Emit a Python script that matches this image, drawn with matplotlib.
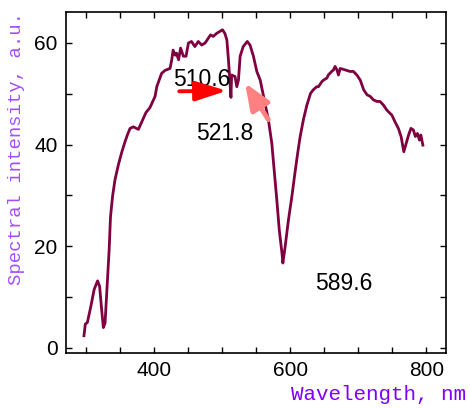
import numpy as np
import matplotlib
matplotlib.use('Agg')
import matplotlib.pyplot as plt
from matplotlib.ticker import MultipleLocator, FixedLocator

# spectrum
wavelength = [297, 299, 302, 307, 312, 317, 320, 323, 325.5, 328, 331, 334, 336, 339,
              342.6, 347.5, 352.5, 357.4, 360.8, 364.7, 369.6, 377, 382, 388, 394, 401.5,
              404, 411, 416, 423.5, 426, 428, 431, 433, 436, 439, 443, 447, 450.5, 455,
              460, 465, 470, 475, 480, 483, 487, 492, 497, 500.5, 504, 507, 509.3, 511,
              513, 514, 519, 521.6, 524, 526.5, 531, 537, 541, 546, 551, 556, 562, 568,
              573, 576.5, 580.4, 584, 588, 589.3, 592.6, 597.5, 602.5, 607, 611, 614.7,
              619.6, 624.6, 630, 634, 639, 641.6, 646.6, 649, 654, 656, 661, 663.7, 666,
              668.7, 671, 673.5, 681, 688, 693, 698, 703, 708, 713, 717.6, 722.5, 727.5,
              732, 737, 742, 749.5, 754, 759, 763, 767, 770.6, 774, 777.5, 781, 784, 787,
              790, 792, 795]
intensity = [2.4, 4.7, 5.0, 8.1, 11.5, 13.2, 12.1, 7.5, 4.0, 4.9, 12.1, 19.3, 25.8, 29.8,
             33.1, 36.0, 38.5, 40.6, 41.9, 43.2, 43.5, 43.0, 44.5, 46.3, 47.3, 49.5,
             51.4, 54.0, 54.6, 55.0, 56.7, 58.6, 57.6, 58.0, 56.7, 59.0, 57.4, 57.4, 60.0, 60.3,
             59.3, 60.3, 59.6, 60.0, 61.0, 61.6, 61.3, 61.9, 62.3, 62.6, 61.9, 60.6, 56.7, 53.4,
             49.3, 53.7, 53.4, 51.4, 52.7, 57.4, 59.3, 60.3, 59.6, 57.4, 54.4, 52.7, 48.8, 44.9,
             40.3, 35.0, 29.1, 23.2, 18.6, 16.7, 19.9, 25.2, 29.8, 34.4, 38.3, 41.6,
             45.0, 47.8, 50.1, 50.8, 51.4, 51.4, 52.4, 52.7, 53.1, 53.7, 54.4, 54.7, 55.4,
             54.7, 53.7, 55.0, 54.7, 54.4, 54.4, 53.7, 52.7, 50.8, 49.8, 49.5, 48.8, 48.5,
             48.5, 47.8, 46.8, 45.8, 44.5, 43.2, 41.6, 38.6, 40.3, 41.9, 43.2, 42.9, 41.6, 42.2,
             40.9, 41.9, 39.9]

peak_labels = ['510.6', '521.8', '589.6']
label_pos = [(470, 52.8), (504.4, 42.1), (679.4, 12.6)]

fig = plt.figure(figsize=(4.7, 4.08), dpi=100)
ax = fig.add_axes([66/470, 1-353/408, 380/470, 341/408])

ax.plot(wavelength, intensity, color='#7f0040', lw=2.0)

ax.set_xlim(270.6, 829)
ax.set_ylim(-1, 66.1)
ax.xaxis.set_major_locator(FixedLocator([400, 600, 800]))
ax.xaxis.set_minor_locator(MultipleLocator(50))
ax.yaxis.set_major_locator(MultipleLocator(20))
ax.yaxis.set_minor_locator(MultipleLocator(10))
ax.tick_params(which='both', direction='in', top=True, right=True, length=4, width=1)
ax.tick_params(labelsize=15, pad=6)
for lab in ax.get_xticklabels() + ax.get_yticklabels():
    lab.set_family('Liberation Sans')
for s in ax.spines.values():
    s.set_linewidth(1.2)

for txt, (x, y) in zip(peak_labels, label_pos):
    ax.text(x, y, txt, fontsize=16.5, family='Liberation Sans', ha='center', va='center')

ax.annotate('', xy=(507, 50.6), xytext=(437, 50.5),
            arrowprops=dict(arrowstyle='-|>,head_length=1.9,head_width=0.6', color='red',
                            lw=2.8, mutation_scale=10, shrinkA=0, shrinkB=0))
ax.annotate('', xy=(533.8, 52.1), xytext=(568, 44.9),
            arrowprops=dict(arrowstyle='-|>,head_length=1.6,head_width=0.65', color='#ff8080',
                            lw=3.4, mutation_scale=10, shrinkA=0, shrinkB=0))

fig.text(17/470, 1-12/408, 'Spectral intensity, a.u.', rotation=90, va='top', ha='center',
         color='#a64dff', fontsize=13.6, family='Liberation Mono')
fig.text(466/470, 1-395/408, 'Wavelength, nm', ha='right', va='center',
         color='#8000ff', fontsize=15, family='Liberation Mono')

fig.savefig('out.png', dpi=100)
